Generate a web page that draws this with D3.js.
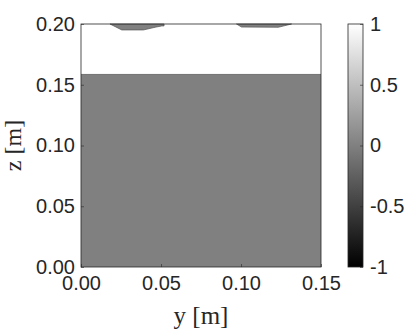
<!DOCTYPE html>
<html>
<head>
<meta charset="utf-8">
<script src="https://cdn.jsdelivr.net/npm/d3@7"></script>
<style>
  body { margin: 0; background: #fff; }
  svg text { fill: #262626; }
</style>
</head>
<body>
<div class="chart"></div>
<script>
// field values: 1 above the free surface, 0 in the liquid
var bgValue = 1;
var liquidValue = 0;
var surfaceZ = 0.1585;

// droplets hanging from the lid, [y, z]
var blob1 = [[0.0181,0.2],[0.0255,0.1951],[0.0390,0.1951],[0.0463,0.1973],[0.0505,0.1984],[0.0519,0.1984],[0.0519,0.2]];
var blob2 = [[0.0972,0.2],[0.1003,0.1975],[0.1233,0.1973],[0.1316,0.2]];

var xTicks = [0, 0.05, 0.10, 0.15];
var yTicks = [0, 0.05, 0.10, 0.15, 0.20];
var cbTicks = [-1, -0.5, 0, 0.5, 1];

var W = 415, H = 331;
var plot = {left: 81, right: 321, top: 24, bottom: 267};
var cb = {left: 348, right: 363};

var svg = d3.select(".chart").append("svg")
    .attr("width", W).attr("height", H);

var x = d3.scaleLinear().domain([0, 0.15]).range([plot.left, plot.right]);
var y = d3.scaleLinear().domain([0, 0.2]).range([plot.bottom, plot.top]);
var color = d3.scaleLinear().domain([-1, 1]).range(["#000", "#fff"]);

// background field
svg.append("rect")
    .attr("x", x(0)).attr("y", y(0.2))
    .attr("width", x(0.15) - x(0)).attr("height", y(0) - y(0.2))
    .attr("fill", color(bgValue));

// liquid
svg.append("rect")
    .attr("x", x(0)).attr("y", y(surfaceZ))
    .attr("width", x(0.15) - x(0)).attr("height", y(0) - y(surfaceZ))
    .attr("fill", color(liquidValue));
svg.append("line")
    .attr("x1", x(0)).attr("x2", x(0.15))
    .attr("y1", y(surfaceZ)).attr("y2", y(surfaceZ))
    .attr("stroke", "#555").attr("stroke-width", 0.7);

var line = d3.line().x(function(d){ return x(d[0]); }).y(function(d){ return y(d[1]); });
svg.selectAll(".blob").data([blob1, blob2]).enter().append("path")
    .attr("class", "blob")
    .attr("d", function(d){ return line(d) + "Z"; })
    .attr("fill", color(liquidValue))
    .attr("stroke", "#555").attr("stroke-width", 0.7);

// axes (MATLAB style: inward ticks, box)
var font = "'Liberation Sans', Arial, sans-serif";
var xAxis = svg.append("g").attr("transform", "translate(0," + plot.bottom + ")")
    .call(d3.axisBottom(x).tickValues(xTicks).tickFormat(d3.format(".2f")).tickSizeInner(-3).tickSizeOuter(0).tickPadding(6));
var yAxis = svg.append("g").attr("transform", "translate(" + plot.left + ",0)")
    .call(d3.axisLeft(y).tickValues(yTicks).tickFormat(d3.format(".2f")).tickSizeInner(-3).tickSizeOuter(0).tickPadding(6));
[xAxis, yAxis].forEach(function(g){
  g.select(".domain").remove();
  g.selectAll("line").attr("stroke", "#262626").attr("stroke-width", 0.6);
  g.selectAll("text").attr("font-family", font).attr("font-size", 20).attr("fill", "#262626");
});
xAxis.selectAll("text").attr("dy", "0.85em");

svg.append("rect")
    .attr("x", plot.left).attr("y", plot.top)
    .attr("width", plot.right - plot.left).attr("height", plot.bottom - plot.top)
    .attr("fill", "none").attr("stroke", "#262626").attr("stroke-width", 0.8);

// axis labels
var serif = "'Liberation Serif', 'DejaVu Serif', serif";
svg.append("text")
    .attr("x", (plot.left + plot.right) / 2).attr("y", 324)
    .attr("text-anchor", "middle")
    .attr("font-family", serif).attr("font-size", 25)
    .text("y [m]");
svg.append("text")
    .attr("transform", "translate(21," + ((plot.top + plot.bottom) / 2) + ") rotate(-90)")
    .attr("text-anchor", "middle")
    .attr("font-family", serif).attr("font-size", 24)
    .text("z [m]");

// colorbar
var defs = svg.append("defs");
var grad = defs.append("linearGradient").attr("id", "cbgrad")
    .attr("x1", 0).attr("y1", 1).attr("x2", 0).attr("y2", 0);
grad.selectAll("stop").data(cbTicks).enter().append("stop")
    .attr("offset", function(d){ return (d + 1) / 2; })
    .attr("stop-color", function(d){ return color(d); });

var cy = d3.scaleLinear().domain([-1, 1]).range([plot.bottom, plot.top]);
svg.append("rect")
    .attr("x", cb.left).attr("y", cy(1))
    .attr("width", cb.right - cb.left).attr("height", cy(-1) - cy(1))
    .attr("fill", "url(#cbgrad)")
    .attr("stroke", "#262626").attr("stroke-width", 0.8);

var cbAxis = svg.append("g").attr("transform", "translate(" + cb.right + ",0)")
    .call(d3.axisRight(cy).tickValues(cbTicks).tickFormat(function(d){ return String(d); }).tickSizeInner(-3).tickSizeOuter(0).tickPadding(7));
cbAxis.select(".domain").remove();
cbAxis.selectAll("line").attr("stroke", "#262626").attr("stroke-width", 0.6);
cbAxis.selectAll("text").attr("font-family", font).attr("font-size", 20).attr("fill", "#262626");
</script>
</body>
</html>
